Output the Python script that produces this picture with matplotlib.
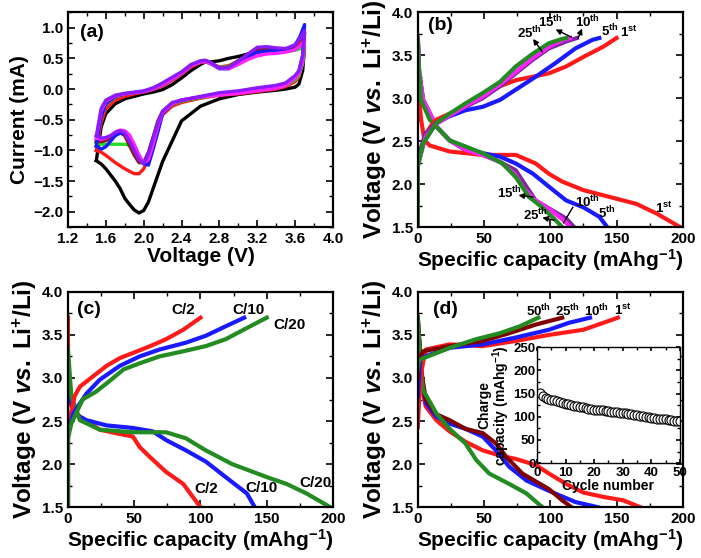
import matplotlib

matplotlib.use("Agg")
import matplotlib.pyplot as plt
from matplotlib.ticker import MultipleLocator

plt.rcParams.update({
    "font.family": ["Liberation Sans", "DejaVu Sans"],
    "font.weight": "bold",
    "axes.labelweight": "bold",
    "mathtext.fontset": "custom",
    "mathtext.rm": "Liberation Sans:bold",
    "mathtext.it": "Liberation Sans:italic:bold",
    "mathtext.bf": "Liberation Sans:bold",
    "mathtext.default": "rm",
    "xtick.direction": "in", "ytick.direction": "in",
    "xtick.top": True, "ytick.right": True,
    "xtick.minor.visible": True, "ytick.minor.visible": True,
    "xtick.major.size": 5, "ytick.major.size": 5,
    "xtick.minor.size": 3, "ytick.minor.size": 3,
    "xtick.major.width": 1.2, "ytick.major.width": 1.2,
    "xtick.minor.width": 1.0, "ytick.minor.width": 1.0,
    "axes.linewidth": 1.6,
})

# ---------------- (a) cyclic voltammetry ----------------
CV_UP_V = [1.50, 1.55, 1.60, 1.70, 1.80, 1.90, 2.00, 2.10, 2.20, 2.30, 2.40, 2.50, 2.60,
           2.65, 2.70, 2.80, 2.90, 3.00, 3.10, 3.20, 3.30, 3.40, 3.50, 3.60, 3.65, 3.70]
CV_DOWN_V = [3.70, 3.68, 3.64, 3.60, 3.50, 3.40, 3.20, 3.00, 2.80, 2.60, 2.40, 2.30, 2.20, 2.15,
             2.10, 2.05, 2.00, 1.95, 1.90, 1.85, 1.80, 1.75, 1.70, 1.65, 1.60, 1.55, 1.50]

CV_COLORS = ["black", "#ff1a1a", "#22dd22", "#8b1a1a", "#1a1aff", "#ff22ff", "#8c1aff"]
CV_UP_I = [
    [-1.16, -0.62, -0.40, -0.24, -0.16, -0.12, -0.08, -0.05, -0.01, 0.07, 0.18, 0.30, 0.40,
     0.44, 0.44, 0.46, 0.50, 0.53, 0.57, 0.60, 0.62, 0.63, 0.64, 0.65, 0.66, 0.68],
    [-1.00, -0.55, -0.32, -0.18, -0.12, -0.08, -0.05, -0.01, 0.05, 0.14, 0.24, 0.36, 0.43,
     0.44, 0.42, 0.36, 0.38, 0.46, 0.55, 0.62, 0.64, 0.63, 0.63, 0.68, 0.76, 0.90],
    [-0.88, -0.45, -0.25, -0.13, -0.08, -0.06, -0.04, 0.00, 0.07, 0.16, 0.26, 0.38, 0.44,
     0.45, 0.42, 0.35, 0.37, 0.46, 0.55, 0.62, 0.63, 0.62, 0.61, 0.63, 0.66, 0.72],
    [-0.85, -0.40, -0.22, -0.12, -0.08, -0.06, -0.04, 0.01, 0.08, 0.17, 0.27, 0.39, 0.45,
     0.46, 0.43, 0.34, 0.36, 0.46, 0.56, 0.64, 0.66, 0.65, 0.64, 0.70, 0.80, 0.92],
    [-0.93, -0.45, -0.24, -0.12, -0.08, -0.06, -0.04, 0.00, 0.07, 0.16, 0.26, 0.38, 0.44,
     0.45, 0.42, 0.33, 0.33, 0.42, 0.52, 0.60, 0.62, 0.62, 0.63, 0.72, 0.85, 1.05],
    [-0.80, -0.36, -0.20, -0.11, -0.08, -0.06, -0.04, 0.00, 0.07, 0.16, 0.26, 0.38, 0.44,
     0.45, 0.42, 0.34, 0.33, 0.40, 0.48, 0.54, 0.57, 0.58, 0.60, 0.64, 0.70, 0.78],
    [-0.76, -0.32, -0.18, -0.10, -0.07, -0.05, -0.03, 0.02, 0.10, 0.19, 0.28, 0.40, 0.46,
     0.47, 0.44, 0.34, 0.35, 0.45, 0.57, 0.68, 0.69, 0.67, 0.66, 0.72, 0.82, 0.95],
]
CV_DOWN_I = [
    [0.68, 0.30, 0.08, 0.03, 0.00, -0.02, -0.05, -0.09, -0.16, -0.28, -0.52, -0.85, -1.18, -1.40,
     -1.62, -1.84, -1.98, -2.02, -1.97, -1.88, -1.78, -1.62, -1.50, -1.40, -1.30, -1.22, -1.17],
    [0.90, 0.45, 0.20, 0.12, 0.04, 0.00, -0.04, -0.08, -0.10, -0.15, -0.22, -0.28, -0.42, -0.62,
     -0.88, -1.12, -1.30, -1.38, -1.38, -1.34, -1.30, -1.25, -1.20, -1.14, -1.08, -1.03, -1.00],
    [0.72, 0.42, 0.22, 0.15, 0.06, 0.02, -0.02, -0.06, -0.09, -0.14, -0.20, -0.25, -0.38, -0.55,
     -0.80, -1.05, -1.20, -1.18, -1.05, -0.92, -0.90, -0.90, -0.90, -0.90, -0.90, -0.90, -0.88],
    [0.92, 0.50, 0.26, 0.18, 0.07, 0.03, -0.01, -0.05, -0.08, -0.13, -0.19, -0.24, -0.36, -0.52,
     -0.78, -1.03, -1.20, -1.20, -1.08, -0.92, -0.76, -0.71, -0.74, -0.80, -0.84, -0.86, -0.85],
    [1.05, 0.55, 0.28, 0.20, 0.08, 0.03, 0.00, -0.05, -0.08, -0.13, -0.18, -0.24, -0.40, -0.70,
     -0.98, -1.24, -1.22, -1.08, -0.92, -0.80, -0.73, -0.72, -0.76, -0.85, -0.94, -0.98, -0.93],
    [0.78, 0.45, 0.25, 0.18, 0.06, 0.01, -0.03, -0.07, -0.10, -0.13, -0.18, -0.24, -0.38, -0.60,
     -0.90, -1.15, -1.20, -1.08, -0.90, -0.75, -0.68, -0.67, -0.70, -0.76, -0.80, -0.82, -0.80],
    [0.95, 0.55, 0.30, 0.22, 0.10, 0.06, 0.02, -0.03, -0.06, -0.12, -0.18, -0.22, -0.36, -0.55,
     -0.80, -1.05, -1.22, -1.15, -1.00, -0.85, -0.72, -0.68, -0.71, -0.76, -0.79, -0.80, -0.76],
]

# ---------------- (b) cycles at fixed rate ----------------
B_COLORS = ["#ff1a1a", "#1a1aff", "#7a2a9a", "#ff22ff", "#228b22"]   # 1st, 5th, 10th, 15th, 25th
B_DIS_Q = [
    [0, 2.5, 5, 9, 24, 49, 74, 89, 99, 109, 125, 145, 165, 180, 198],
    [0, 1, 4, 14, 24, 36, 49, 62, 74, 87, 99, 112, 125, 137, 143],
    [0, 1, 4, 14, 24, 36, 49, 62, 74, 82, 89, 102, 112, 118],
    [0, 1, 4, 14, 24, 36, 49, 62, 73, 80, 88, 100, 110, 115],
    [0, 1, 2.5, 9, 24, 49, 64, 74, 84, 94, 104, 109],
]
B_DIS_V = [
    [3.17, 2.75, 2.51, 2.45, 2.38, 2.34, 2.34, 2.24, 2.12, 2.03, 1.93, 1.85, 1.77, 1.66, 1.50],
    [3.70, 3.30, 2.98, 2.67, 2.51, 2.40, 2.36, 2.32, 2.24, 2.12, 1.97, 1.81, 1.73, 1.62, 1.50],
    [3.70, 3.30, 2.98, 2.67, 2.51, 2.40, 2.34, 2.26, 2.16, 1.97, 1.81, 1.69, 1.60, 1.50],
    [3.70, 3.30, 2.98, 2.67, 2.51, 2.40, 2.34, 2.26, 2.12, 1.95, 1.82, 1.70, 1.58, 1.50],
    [3.70, 3.30, 2.98, 2.75, 2.51, 2.36, 2.24, 2.08, 1.85, 1.73, 1.58, 1.50],
]
B_CHG_Q = [
    [0, 0, 5, 10, 14, 24, 36, 49, 62, 74, 87, 99, 112, 125, 140, 150],
    [0, 0, 6, 14, 24, 36, 49, 62, 74, 89, 104, 119, 132, 137],
    [0, 0, 6, 14, 24, 36, 49, 62, 74, 87, 99, 112, 120],
    [0, 0, 6, 14, 24, 36, 49, 62, 74, 87, 99, 110, 115],
    [0, 0, 4, 14, 24, 36, 49, 62, 74, 87, 99, 109, 112],
]
B_CHG_V = [
    [1.50, 2.30, 2.55, 2.68, 2.75, 2.82, 2.90, 3.02, 3.14, 3.21, 3.25, 3.29, 3.37, 3.48, 3.60, 3.70],
    [1.50, 2.28, 2.59, 2.71, 2.79, 2.86, 2.90, 2.98, 3.10, 3.25, 3.41, 3.58, 3.68, 3.70],
    [1.50, 2.24, 2.59, 2.71, 2.80, 2.90, 3.00, 3.14, 3.29, 3.45, 3.58, 3.66, 3.70],
    [1.50, 2.22, 2.55, 2.70, 2.80, 2.91, 3.02, 3.16, 3.31, 3.47, 3.60, 3.68, 3.70],
    [1.50, 2.20, 2.47, 2.71, 2.82, 2.94, 3.06, 3.19, 3.37, 3.52, 3.64, 3.69, 3.70],
]

# ---------------- (c) rate capability ----------------
C_COLORS = ["#ff1a1a", "#1a1aff", "#228b22"]   # C/2, C/10, C/20
C_DIS_Q = [
    [0, 0, 2.5, 9, 24, 36, 49, 54, 62, 74, 87, 100],
    [0, 4, 14, 29, 49, 64, 74, 89, 104, 119, 135, 141],
    [0, 2.5, 9, 24, 49, 74, 89, 104, 124, 150, 165, 180, 198],
]
C_DIS_V = [
    [3.70, 2.80, 2.67, 2.55, 2.40, 2.36, 2.32, 2.20, 2.08, 1.91, 1.77, 1.50],
    [2.95, 2.59, 2.51, 2.45, 2.42, 2.38, 2.28, 2.16, 2.03, 1.85, 1.66, 1.50],
    [3.33, 2.79, 2.51, 2.40, 2.37, 2.37, 2.30, 2.16, 2.00, 1.85, 1.77, 1.66, 1.50],
]
C_CHG_Q = [
    [0, 0, 5, 9, 19, 29, 39, 49, 62, 74, 87, 100],
    [0, 0, 4, 14, 24, 39, 54, 69, 89, 104, 119, 133],
    [0, 0, 2.5, 11, 21, 31, 42, 54, 69, 87, 104, 119, 135, 150],
]
C_CHG_V = [
    [1.50, 2.43, 2.79, 2.90, 3.02, 3.14, 3.23, 3.29, 3.37, 3.45, 3.56, 3.70],
    [1.50, 2.35, 2.59, 2.82, 2.98, 3.14, 3.25, 3.33, 3.41, 3.49, 3.60, 3.70],
    [1.50, 2.30, 2.47, 2.75, 2.84, 2.96, 3.10, 3.17, 3.25, 3.31, 3.37, 3.45, 3.58, 3.70],
]

# ---------------- (d) long cycling ----------------
D_COLORS = ["#ff1a1a", "#1a1aff", "#800000", "#228b22"]   # 1st, 10th, 25th, 50th
D_DIS_Q = [
    [0, 2.5, 4, 6, 14, 24, 36, 49, 62, 74, 89, 99, 112, 125, 140, 155, 168],
    [0, 2.5, 6, 14, 24, 36, 49, 59, 69, 82, 99, 119, 136],
    [0, 2.5, 6, 14, 24, 36, 49, 59, 67, 79, 99, 109, 116],
    [0, 2, 4, 14, 24, 36, 44, 54, 69, 82, 94],
]
D_DIS_V = [
    [3.64, 3.17, 2.82, 2.67, 2.51, 2.38, 2.26, 2.16, 2.10, 2.06, 1.99, 1.89, 1.77, 1.67, 1.62, 1.58, 1.50],
    [3.70, 3.06, 2.71, 2.55, 2.47, 2.41, 2.32, 2.16, 1.97, 1.81, 1.69, 1.56, 1.50],
    [3.70, 3.10, 2.75, 2.58, 2.51, 2.41, 2.36, 2.24, 2.08, 1.89, 1.71, 1.58, 1.50],
    [3.70, 3.15, 2.86, 2.59, 2.41, 2.24, 2.05, 1.89, 1.77, 1.66, 1.50],
]
D_CHG_Q = [
    [0, 1, 3, 6, 24, 49, 74, 99, 125, 140, 151],
    [0, 2, 9, 24, 49, 74, 99, 114, 130],
    [0, 1, 4, 24, 49, 69, 89, 109],
    [0, 1, 24, 44, 62, 77, 91],
]
D_CHG_V = [
    [2.43, 2.75, 3.10, 3.33, 3.39, 3.37, 3.43, 3.50, 3.56, 3.64, 3.70],
    [2.78, 3.23, 3.27, 3.35, 3.39, 3.47, 3.56, 3.64, 3.70],
    [3.00, 3.22, 3.31, 3.37, 3.43, 3.52, 3.62, 3.70],
    [3.10, 3.21, 3.35, 3.45, 3.52, 3.60, 3.70],
]

# inset: charge capacity vs cycle number
CYCLES = list(range(1, 51))
CHARGE_CAP = [152, 145, 141, 139, 137, 135, 133, 132, 130, 128,
              127, 126, 124, 123, 122, 120, 119, 117, 116, 115,
              115, 114, 114, 113, 112, 111, 110, 110, 109, 108,
              107, 106, 105, 104, 103, 102, 101, 100, 99, 98,
              97, 96, 95, 95, 94, 93, 92, 91, 91, 90]

VS_LABEL = r"Voltage (V $\mathit{vs.}$ Li$^{+}$/Li)"
CAP_LABEL = r"Specific capacity (mAhg$^{-1}$)"


def style_cap_axes(ax, tag, tx, ty):
    ax.set_xlim(0, 200)
    ax.set_ylim(1.5, 4.0)
    ax.xaxis.set_major_locator(MultipleLocator(50))
    ax.xaxis.set_minor_locator(MultipleLocator(25))
    ax.yaxis.set_major_locator(MultipleLocator(0.5))
    ax.yaxis.set_minor_locator(MultipleLocator(0.25))
    ax.tick_params(labelsize=11)
    ax.set_xlabel(CAP_LABEL, fontsize=15, labelpad=1)
    ax.set_ylabel(VS_LABEL, fontsize=17.5, labelpad=2)
    ax.text(tx, ty, tag, transform=ax.transAxes, fontsize=14, va="center", ha="left")


def pointer(ax, tail, head):
    ax.annotate("", xy=head, xytext=tail,
                arrowprops=dict(arrowstyle="-|>", color="black", lw=1.0, mutation_scale=8,
                                shrinkA=0, shrinkB=0))


fig = plt.figure(figsize=(7.01, 5.58), dpi=100)
ax_a = fig.add_axes([0.097, 0.593, 0.378, 0.385])
ax_b = fig.add_axes([0.596, 0.593, 0.378, 0.385])
ax_c = fig.add_axes([0.097, 0.091, 0.378, 0.386])
ax_d = fig.add_axes([0.596, 0.091, 0.378, 0.386])

# (a)
for col, up, down in zip(CV_COLORS, CV_UP_I, CV_DOWN_I):
    ax_a.plot(CV_UP_V + CV_DOWN_V, up + down, color=col, lw=2.4, solid_joinstyle="round")
ax_a.set_xlim(1.2, 4.0)
ax_a.set_ylim(-2.25, 1.25)
ax_a.xaxis.set_major_locator(MultipleLocator(0.4))
ax_a.xaxis.set_minor_locator(MultipleLocator(0.2))
ax_a.yaxis.set_major_locator(MultipleLocator(0.5))
ax_a.yaxis.set_minor_locator(MultipleLocator(0.25))
ax_a.tick_params(labelsize=11)
ax_a.set_xlabel("Voltage (V)", fontsize=15, labelpad=1)
ax_a.set_ylabel("Current (mA)", fontsize=15, labelpad=3)
ax_a.text(0.045, 0.907, "(a)", transform=ax_a.transAxes, fontsize=14, va="center", ha="left")

# (b)
for col, q, v in zip(B_COLORS, B_DIS_Q, B_DIS_V):
    ax_b.plot(q, v, color=col, lw=3, solid_joinstyle="round")
for col, q, v in zip(B_COLORS, B_CHG_Q, B_CHG_V):
    ax_b.plot(q, v, color=col, lw=3, solid_joinstyle="round")
style_cap_axes(ax_b, "(b)", 0.04, 0.94)
lab = dict(fontsize=9.5, ha="center", va="center")
ax_b.text(159, 3.76, r"1$^{st}$", **lab)
ax_b.text(145, 3.78, r"5$^{th}$", **lab)
ax_b.text(128, 3.89, r"10$^{th}$", **lab)
ax_b.text(100, 3.89, r"15$^{th}$", **lab)
ax_b.text(84, 3.76, r"25$^{th}$", **lab)
pointer(ax_b, (121, 3.70), (124, 3.81))
pointer(ax_b, (116, 3.71), (104, 3.80))
pointer(ax_b, (94, 3.54), (87, 3.69))
ax_b.text(186, 1.72, r"1$^{st}$", **lab)
ax_b.text(143, 1.66, r"5$^{th}$", **lab)
ax_b.text(128, 1.79, r"10$^{th}$", **lab)
ax_b.plot([117, 110], [1.73, 1.55], color="black", lw=1.0)
ax_b.text(69, 1.90, r"15$^{th}$", **lab)
pointer(ax_b, (87, 1.85), (76, 1.87))
ax_b.text(89, 1.64, r"25$^{th}$", **lab)
pointer(ax_b, (103, 1.58), (94, 1.61))

# (c)
for col, q, v in zip(C_COLORS, C_DIS_Q, C_DIS_V):
    ax_c.plot(q, v, color=col, lw=3, solid_joinstyle="round")
for col, q, v in zip(C_COLORS, C_CHG_Q, C_CHG_V):
    ax_c.plot(q, v, color=col, lw=3, solid_joinstyle="round")
style_cap_axes(ax_c, "(c)", 0.035, 0.916)
clab = dict(fontsize=11, ha="center", va="center")
ax_c.text(87, 3.79, "C/2", **clab)
ax_c.text(136, 3.79, "C/10", **clab)
ax_c.text(167, 3.62, "C/20", **clab)
ax_c.text(104, 1.71, "C/2", **clab)
ax_c.text(146, 1.72, "C/10", **clab)
ax_c.text(187, 1.78, "C/20", **clab)

# (d)
for col, q, v in zip(D_COLORS, D_DIS_Q, D_DIS_V):
    ax_d.plot(q, v, color=col, lw=3, solid_joinstyle="round")
for col, q, v in zip(D_COLORS, D_CHG_Q, D_CHG_V):
    ax_d.plot(q, v, color=col, lw=3, solid_joinstyle="round")
style_cap_axes(ax_d, "(d)", 0.057, 0.916)
ax_d.text(91, 3.78, r"50$^{th}$", **lab)
ax_d.text(113, 3.78, r"25$^{th}$", **lab)
ax_d.text(135, 3.78, r"10$^{th}$", **lab)
ax_d.text(155, 3.78, r"1$^{st}$", **lab)

ax_in = fig.add_axes([0.766, 0.170, 0.204, 0.208])
ax_in.plot(CYCLES, CHARGE_CAP, "o", ms=6.5, mfc="white", mec="black", mew=0.8)
ax_in.set_xlim(0, 50)
ax_in.set_ylim(0, 250)
ax_in.xaxis.set_major_locator(MultipleLocator(10))
ax_in.xaxis.set_minor_locator(MultipleLocator(5))
ax_in.yaxis.set_major_locator(MultipleLocator(50))
ax_in.yaxis.set_minor_locator(MultipleLocator(25))
ax_in.tick_params(labelsize=9.5, length=3)
ax_in.tick_params(axis="y", pad=1)
ax_in.tick_params(axis="x", pad=3)
ax_in.tick_params(which="minor", length=2)
for s in ax_in.spines.values():
    s.set_linewidth(1.0)
ax_in.set_xlabel("Cycle number", fontsize=10, labelpad=0)
ax_in.set_ylabel("Charge\n" + r"capacity (mAhg$^{-1}$)", fontsize=10, labelpad=1, linespacing=0.95)

fig.savefig("out.png", dpi=100)
